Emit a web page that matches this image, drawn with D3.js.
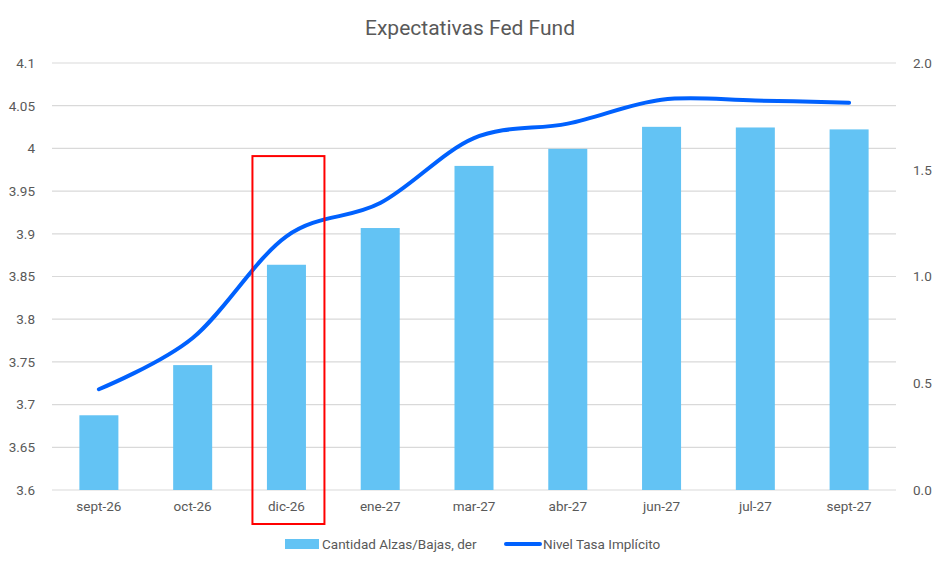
<!DOCTYPE html>
<html>
<head>
<meta charset="utf-8">
<script src="https://cdn.jsdelivr.net/npm/d3@7"></script>
<style>
  body { margin: 0; background: #fff; }
  text { font-family: Roboto, 'Open Sans', sans-serif; fill: #595959; }
</style>
</head>
<body>
<div id="chart"></div>
<script>
const months = ['sept-26', 'oct-26', 'dic-26', 'ene-27', 'mar-27', 'abr-27', 'jun-27', 'jul-27', 'sept-27']
// bars, right axis
const hikes = [0.35, 0.585, 1.055, 1.227, 1.518, 1.598, 1.701, 1.698, 1.689]
// line, left axis
const rate = [3.718, 3.778, 3.897, 3.936, 4.012, 4.029, 4.057, 4.056, 4.0535]
const leftTicks = [3.6, 3.65, 3.7, 3.75, 3.8, 3.85, 3.9, 3.95, 4, 4.05, 4.1]
const rightTicks = [0, 0.5, 1, 1.5, 2]
const highlight = 'dic-26'

const width = 940
const height = 568
const margin = { top: 63, left: 52, right: 44, bottom: 78 }

const svg = d3
  .select('#chart')
  .append('svg')
  .attr('width', width)
  .attr('height', height)

const x = d3
  .scaleBand()
  .domain(months)
  .range([margin.left, width - margin.right])
  .paddingInner(0.584)
  .paddingOuter(0.292)

const yLeft = d3.scaleLinear().domain([3.6, 4.1]).range([height - margin.bottom, margin.top])
const yRight = d3.scaleLinear().domain([0, 2]).range([height - margin.bottom, margin.top])

// gridlines
svg
  .append('g')
  .selectAll('line')
  .data(leftTicks)
  .enter()
  .append('line')
  .attr('x1', margin.left)
  .attr('x2', width - margin.right)
  .attr('y1', d => yLeft(d))
  .attr('y2', d => yLeft(d))
  .attr('stroke', '#d9d9d9')
  .attr('stroke-width', 1.2)

// left axis labels
svg
  .append('g')
  .attr('transform', 'translate(' + (margin.left - 14) + ',0)')
  .call(d3.axisLeft(yLeft).tickValues(leftTicks).tickSize(0).tickFormat(d => String(+d.toFixed(2))))
  .call(g => g.select('.domain').remove())
  .selectAll('text')
  .attr('font-size', 13.5)
  .attr('fill', '#595959')

// right axis labels
svg
  .append('g')
  .attr('transform', 'translate(' + (width - margin.right + 14) + ',0)')
  .call(d3.axisRight(yRight).tickValues(rightTicks).tickSize(0).tickFormat(d3.format('.1f')))
  .call(g => g.select('.domain').remove())
  .selectAll('text')
  .attr('font-size', 13.5)
  .attr('fill', '#595959')

// bars
svg
  .selectAll('.bar')
  .data(months)
  .enter()
  .append('rect')
  .attr('class', 'bar')
  .attr('x', d => x(d))
  .attr('width', x.bandwidth())
  .attr('y', (d, i) => yRight(hikes[i]))
  .attr('height', (d, i) => yRight(0) - yRight(hikes[i]))
  .attr('fill', '#63c3f4')

// x labels
svg
  .append('g')
  .attr('transform', 'translate(0,' + (height - margin.bottom + 8) + ')')
  .call(d3.axisBottom(x).tickSize(0))
  .call(g => g.select('.domain').remove())
  .selectAll('text')
  .attr('font-size', 13.5)
  .attr('fill', '#595959')

// line
const line = d3
  .line()
  .x((d, i) => x(months[i]) + x.bandwidth() / 2)
  .y(d => yLeft(d))
  .curve(d3.curveCatmullRom.alpha(0))

svg
  .append('path')
  .datum(rate)
  .attr('d', line)
  .attr('fill', 'none')
  .attr('stroke', '#0061fe')
  .attr('stroke-width', 4)
  .attr('stroke-linecap', 'round')

// highlight box
const hx = x(highlight) + x.bandwidth() / 2
svg
  .append('rect')
  .attr('x', hx - 34)
  .attr('y', yLeft(3.991))
  .attr('width', 72)
  .attr('height', 524 - yLeft(3.991))
  .attr('fill', 'none')
  .attr('stroke', '#ff0000')
  .attr('stroke-width', 2)

// title
svg
  .append('text')
  .attr('x', width / 2)
  .attr('y', 35)
  .attr('text-anchor', 'middle')
  .attr('font-size', 21)
  .text('Expectativas Fed Fund')

// legend
const legend = svg.append('g').attr('transform', 'translate(285,544)')
legend.append('rect').attr('x', 0).attr('y', -5).attr('width', 34).attr('height', 10).attr('fill', '#63c3f4')
legend.append('text').attr('x', 37).attr('y', 5).attr('font-size', 13.5).text('Cantidad Alzas/Bajas, der')
legend
  .append('line')
  .attr('x1', 221)
  .attr('x2', 255)
  .attr('y1', 0)
  .attr('y2', 0)
  .attr('stroke', '#0061fe')
  .attr('stroke-width', 4)
  .attr('stroke-linecap', 'round')
legend.append('text').attr('x', 258).attr('y', 5).attr('font-size', 13.5).text('Nivel Tasa Implícito')
</script>
</body>
</html>
